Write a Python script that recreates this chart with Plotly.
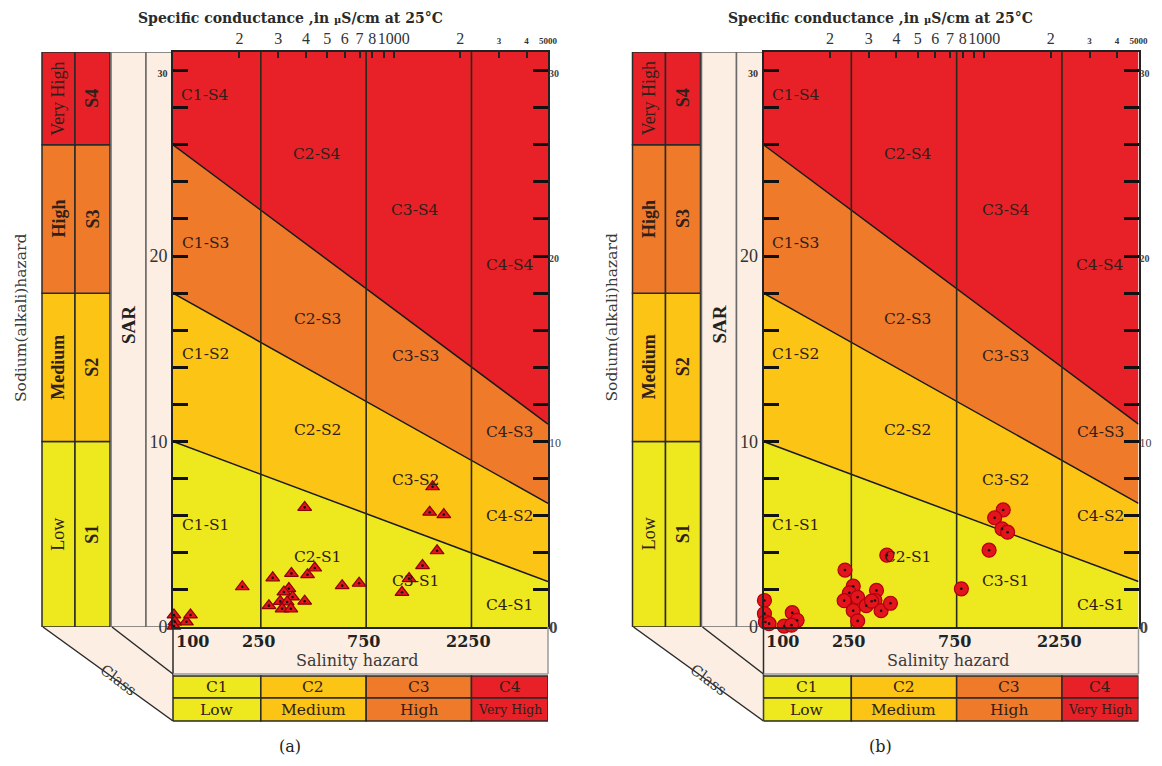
import math
import plotly.graph_objects as go

W, H = 1162, 766

# ---------------- data ----------------
ec_bounds = [100, 250, 750, 2250, 5000]          # salinity class limits (uS/cm)
class_codes = ["C1", "C2", "C3", "C4"]
class_levels = ["Low", "Medium", "High", "Very High"]
s_codes = ["S1", "S2", "S3", "S4"]
s_levels = ["Low", "Medium", "High", "Very High"]
sar_at_100 = [0, 10, 18, 26, 31]                 # SAR of zone limits at EC = 100
sar_at_5000 = [0, 2.45, 6.67, 10.94, 31]         # SAR of zone limits at EC = 5000
zone_colors = ["#EEE81F", "#FCC414", "#EF7B2A", "#E82128"]

top_tick_vals = [200, 300, 400, 500, 600, 700, 800, 900, 1000, 2000, 3000, 4000, 5000]
top_tick_text = ["2", "3", "4", "5", "6", "7", "8", "", "1000", "2",
                 "<b><span style='font-size:9px'>3</span></b>",
                 "<b><span style='font-size:9px'>4</span></b>",
                 "<b><span style='font-size:9px'>5000</span></b>"]
sar_tick_vals = list(range(0, 31, 2))
sar_left_text = {0: "0", 10: "10", 20: "20", 30: "<b><span style='font-size:10px'>30</span></b>"}
sar_right_text = {0: "<b>0</b>", 10: "<span style='font-size:12px'>10</span>",
                  20: "<b><span style='font-size:10px'>20</span></b>",
                  30: "<b><span style='font-size:10px'>30</span></b>"}

label_ec = [140, 450, 1250, 3350]                # label centres per class C1..C4
label_sar = [[5.5, 3.8, 2.5, 1.2],               # S1 row
             [14.7, 10.6, 7.9, 6.0],             # S2 row
             [20.7, 16.6, 14.6, 10.5],           # S3 row
             [28.7, 25.5, 22.5, 19.5]]           # S4 row

# panel (a) samples
ec_a = [395, 1500, 1455, 1686, 1572, 1350, 1174, 1090, 206, 283, 344, 407, 439, 584, 697,
        335, 318, 348, 306, 329, 272, 312, 342, 395, 101, 102, 101, 115, 120]
sar_a = [6.45, 7.56, 6.19, 6.06, 4.11, 3.31, 2.61, 1.87, 2.17, 2.65, 2.89, 2.82, 3.18, 2.23, 2.36,
         2.07, 1.89, 1.62, 1.38, 1.35, 1.15, 0.98, 0.98, 1.39, 0.65, 0.28, 0.05, 0.28, 0.65]
# panel (b) samples
ec_b = [1219, 1115, 1204, 1276, 1052, 788, 362, 234, 255, 245, 267, 232, 255, 292, 325, 320,
        341, 376, 267, 309, 101, 101, 102, 106, 124, 135, 142, 134]
sar_b = [6.31, 5.89, 5.29, 5.11, 4.14, 2.06, 3.87, 3.07, 2.20, 1.84, 1.60, 1.42, 0.88, 1.15,
         1.97, 1.43, 0.88, 1.28, 0.33, 1.39, 1.43, 0.72, 0.27, 0.18, 0.05, 0.77, 0.36, 0.10]

# ---------------- layout constants (pixels) ----------------
PL, PR, PT, PB = 173, 548, 52, 627
DX_B = 590.5
SERIF = "Liberation Serif, Times New Roman, serif"
CENT = "DejaVu Serif, serif"
BEIGE = "#FCEEE2"
TXT = "#30201a"


def fx(p):
    return p / W


def fy(p):
    return 1 - p / H


fig = go.Figure()
shapes = []
annotations = []


def ann(**kw):
    kw.setdefault("xanchor", "center")
    kw.setdefault("yanchor", "middle")
    kw.setdefault("showarrow", False)
    annotations.append(kw)


def panel(dx, xa, ya, ya_r, ec, sar, symbol, msize, mline, tag):
    # zones
    for i in range(4):
        fig.add_trace(go.Scatter(
            x=[ec_bounds[0], ec_bounds[-1], ec_bounds[-1], ec_bounds[0]],
            y=[sar_at_100[i], sar_at_5000[i], sar_at_5000[i + 1], sar_at_100[i + 1]],
            fill="toself", fillcolor=zone_colors[i], mode="lines", line=dict(width=0),
            xaxis=xa, yaxis=ya, hoverinfo="skip", showlegend=False))
    # sloping limits
    for i in range(1, 4):
        fig.add_trace(go.Scatter(
            x=[ec_bounds[0], ec_bounds[-1]], y=[sar_at_100[i], sar_at_5000[i]],
            mode="lines", line=dict(color="#1a1a1a", width=1.5),
            xaxis=xa, yaxis=ya, hoverinfo="skip", showlegend=False))
    # vertical class limits
    for v in ec_bounds[1:4]:
        fig.add_trace(go.Scatter(
            x=[v, v], y=[0, sar_at_100[-1]], mode="lines",
            line=dict(color="#2a2a1a", width=1.6),
            xaxis=xa, yaxis=ya, hoverinfo="skip", showlegend=False))
    # samples
    fig.add_trace(go.Scatter(
        x=ec, y=sar, mode="markers", cliponaxis=False,
        marker=dict(symbol=symbol, size=msize, color="#E3141C",
                    line=dict(color=mline, width=1.2)),
        xaxis=xa, yaxis=ya, showlegend=False, name=tag))
    fig.add_trace(go.Scatter(
        x=ec, y=sar, mode="markers", cliponaxis=False,
        marker=dict(symbol="circle", size=2.6, color="#111111"),
        xaxis=xa, yaxis=ya, showlegend=False, hoverinfo="skip"))
    # dummy trace for right axis
    fig.add_trace(go.Scatter(x=[ec_bounds[0]], y=[0], mode="markers",
                             marker=dict(size=0.1, opacity=0), xaxis=xa, yaxis=ya_r,
                             showlegend=False, hoverinfo="skip"))

    # region labels
    for si in range(4):
        for ci in range(4):
            ann(x=math.log10(label_ec[ci]), y=label_sar[si][ci], xref=xa, yref=ya,
                text=f"{class_codes[ci]}-{s_codes[si]}",
                font=dict(family=CENT, size=15.5, color=TXT))

    # side columns
    for i in range(4):
        for (x0, x1) in [(42, 75), (75, 110)]:
            shapes.append(dict(type="rect", xref="paper", yref=ya,
                               x0=fx(x0 + dx), x1=fx(x1 + dx),
                               y0=sar_at_100[i], y1=sar_at_100[i + 1],
                               fillcolor=zone_colors[i], line=dict(color="#2a2a2a", width=1.5),
                               layer="below"))
        ymid = (sar_at_100[i] + sar_at_100[i + 1]) / 2
        ann(x=fx(58.5 + dx), y=ymid, xref="paper", yref=ya,
            text=f"<b>{s_levels[i]}</b>" if i in (1, 2) else s_levels[i], textangle=-90,
            font=dict(family=SERIF, size=18, color=TXT))
        ann(x=fx(92.5 + dx), y=ymid, xref="paper", yref=ya,
            text=f"<b>{s_codes[i]}</b>", textangle=-90,
            font=dict(family=SERIF, size=18, color=TXT))
    # SAR columns
    for (x0, x1) in [(111, 146), (146, PL)]:
        shapes.append(dict(type="rect", xref="paper", yref=ya, x0=fx(x0 + dx), x1=fx(x1 + dx),
                           y0=0, y1=sar_at_100[-1], fillcolor=BEIGE,
                           line=dict(color="#6a6a6a", width=1.5), layer="below"))
    ann(x=fx(129 + dx), y=fy(325), xref="paper", yref="paper", text="<b>SAR</b>",
        textangle=-90, font=dict(family=SERIF, size=19, color="#222"))
    ann(x=fx(21 + dx), y=fy(318), xref="paper", yref="paper", text="Sodium(alkali)hazard",
        textangle=-90, font=dict(family=CENT, size=15.5, color="#3a3a3a"))

    # bottom beige base and "Class" parallelogram
    path = (f"M {fx(43+dx)},{fy(PB)} L {fx(PR+dx)},{fy(PB)} L {fx(PR+dx)},{fy(674)} "
            f"L {fx(PL+dx)},{fy(674)} L {fx(PL+dx)},{fy(721)} Z")
    shapes.append(dict(type="path", path=path, xref="paper", yref="paper",
                       fillcolor=BEIGE, line=dict(width=0), layer="below"))
    for (a, b) in [((43, PB), (PL, 721)), ((112, PB), (PL, 674)), ((PL, PB), (PL, 721)),
                   ((PL, 674), (PR, 674)), ((PR, PB), (PR, 674))]:
        shapes.append(dict(type="line", xref="paper", yref="paper",
                           x0=fx(a[0] + dx), y0=fy(a[1]), x1=fx(b[0] + dx), y1=fy(b[1]),
                           line=dict(color="#2a2a2a" if a[0] < PL or b[1] == 721 else "#9a9a9a",
                                     width=1.5)))
    ann(x=fx(118 + dx), y=fy(680), xref="paper", yref="paper", text="Class", textangle=37,
        font=dict(family=CENT, size=15, color="#3a3a3a"))
    # salinity labels
    for j, v in enumerate(ec_bounds[:4]):
        ann(x=math.log10(v) + (0.004 if j == 0 else -0.012), y=fy(641),
            xref=xa, yref="paper", text=f"<b>{v}</b>",
            xanchor="left" if j == 0 else "center",
            font=dict(family=CENT, size=16, color="#222"))
    ann(x=fx(357 + dx), y=fy(660), xref="paper", yref="paper", text="Salinity hazard",
        font=dict(family=CENT, size=16, color="#3a3a3a"))
    # class boxes
    for i in range(4):
        for (y0, y1, txt) in [(676, 698, class_codes[i]), (698, 721, class_levels[i])]:
            shapes.append(dict(type="rect", xref=xa, yref="paper",
                               x0=ec_bounds[i], x1=ec_bounds[i + 1], y0=fy(y1), y1=fy(y0),
                               fillcolor=zone_colors[i], line=dict(color="#2a2a2a", width=1.5)))
            cx = math.log10(math.sqrt(ec_bounds[i] * ec_bounds[i + 1]))
            ann(x=cx, y=fy((y0 + y1) / 2), xref=xa, yref="paper", text=txt,
                font=dict(family=CENT, size=15.5 if len(txt) < 9 else 12.5, color=TXT))
    # title and caption
    ann(x=fx(290 + dx), y=fy(18), xref="paper", yref="paper",
        text="<b>Specific conductance ,in <span style='font-size:10px'>µ</span>S/cm at 25°C</b>",
        font=dict(family=CENT, size=14, color="#2a2a2a"))
    ann(x=fx(290 + dx), y=fy(746), xref="paper", yref="paper", text=tag,
        font=dict(family=CENT, size=16, color="#222"))


panel(0, "x", "y", "y3", ec_a, sar_a, "triangle-up", 12, "#8a0008", "(a)")
panel(DX_B, "x2", "y2", "y4", ec_b, sar_b, "circle", 14, "#B0000E", "(b)")

xrange = [math.log10(ec_bounds[0]), math.log10(ec_bounds[-1])]
yrange = [0, sar_at_100[-1]]


def xaxis_cfg(dx, anchor):
    return dict(type="log", range=xrange, domain=[fx(PL + dx), fx(PR + dx)], anchor=anchor,
                side="top", tickvals=top_tick_vals, ticktext=top_tick_text, tickangle=0,
                ticks="inside", ticklen=6, tickwidth=1.5, tickcolor="#222",
                showline=True, mirror=True, linecolor="#222", linewidth=2,
                showgrid=False, zeroline=False, automargin=False,
                tickfont=dict(family=SERIF, size=16, color="#333"), fixedrange=True)


def yaxis_cfg(anchor, right=False, over=None):
    d = dict(range=yrange, domain=[fy(PB), fy(PT)], anchor=anchor,
             tickvals=sar_tick_vals,
             ticktext=[(sar_right_text if right else sar_left_text).get(v, "") for v in sar_tick_vals],
             ticks="inside", ticklen=15, tickwidth=3, tickcolor="#111",
             showgrid=False, zeroline=False, automargin=False,
             tickfont=dict(family=SERIF, size=18 if not right else 17,
                           color="#333" if not right else "#444"),
             fixedrange=True)
    if right:
        d.update(side="right", overlaying=over, showline=False)
    else:
        d.update(showline=True, mirror=True, linecolor="#222", linewidth=2)
    return d


fig.update_layout(
    width=W, height=H, margin=dict(l=0, r=0, t=0, b=0, autoexpand=False),
    paper_bgcolor="white", plot_bgcolor="white", showlegend=False,
    xaxis=xaxis_cfg(0, "y"), xaxis2=xaxis_cfg(DX_B, "y2"),
    yaxis=yaxis_cfg("x"), yaxis2=yaxis_cfg("x2"),
    yaxis3=yaxis_cfg("x", True, "y"), yaxis4=yaxis_cfg("x2", True, "y2"),
    shapes=shapes, annotations=annotations,
)

fig.write_html("out.html", config={"displayModeBar": False},
               post_script="document.body.style.margin='0px';")
